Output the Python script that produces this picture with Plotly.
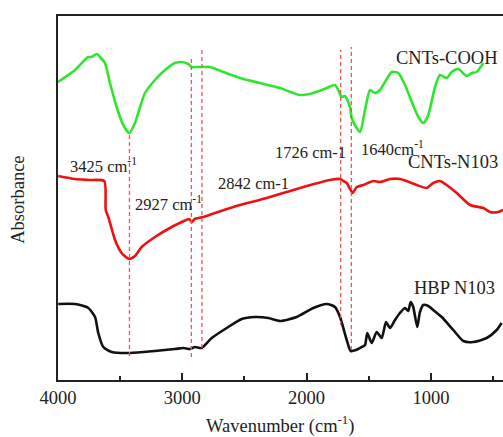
import plotly.graph_objects as go

# Wavenumber (cm-1) and relative absorbance (offset traces)
cooh_wn = [4000, 3863, 3769, 3759, 3729, 3689, 3662, 3622, 3582, 3528, 3475, 3426, 3381, 3340, 3300,
           3220, 3139, 3059, 3005, 2952, 2924, 2884, 2831, 2777, 2670, 2509, 2375, 2214, 2053, 1946,
           1838, 1772, 1745, 1718, 1691, 1651, 1637, 1602, 1570, 1530, 1490, 1450, 1410, 1369, 1315,
           1262, 1208, 1154, 1101, 1061, 1021, 967, 927, 873, 833, 780, 712, 672, 632, 578]
cooh_ab = [298, 310, 322, 323, 323, 326, 323, 317, 297, 273, 255, 247, 257, 273, 287,
           300, 310, 317, 318, 316, 313, 313, 313, 313, 308, 301, 297, 292, 285, 287,
           292, 295, 290, 283, 284, 273, 262, 253, 248, 270, 290, 287, 290, 298, 308,
           307, 295, 278, 263, 257, 265, 293, 305, 302, 308, 311, 304, 307, 308, 317]

n103_wn = [3998, 3863, 3756, 3628, 3616, 3595, 3541, 3488, 3429, 3381, 3327, 3220, 3085, 2978, 2945,
           2924, 2900, 2831, 2590, 2321, 2053, 1812, 1731, 1691, 1677, 1629, 1597, 1544, 1463, 1410,
           1329, 1249, 1195, 1114, 1034, 981, 927, 873, 792, 685, 578, 525, 458, 418]
n103_ab = [204, 201, 200, 199, 170, 163, 140, 127, 121, 124, 133, 143, 153, 159.5, 161,
           158, 161, 163, 173, 182, 192, 200, 201, 198, 197, 187, 193, 195, 199, 198,
           201, 201, 199, 195, 192, 197, 199, 195, 187, 175, 172, 168, 168, 170]

hbp_wn = [3998, 3863, 3756, 3702, 3676, 3636, 3568, 3421, 3220, 3059, 2992, 2938, 2898, 2844, 2763,
          2630, 2522, 2415, 2308, 2214, 2080, 1946, 1838, 1772, 1731, 1677, 1645, 1603, 1557, 1530,
          1512, 1476, 1436, 1396, 1361, 1329, 1289, 1249, 1208, 1182, 1163, 1142, 1110, 1088, 1061,
          1021, 981, 913, 820, 739, 659, 551, 471, 431]
hbp_ab = [76, 76, 72, 63, 47, 33, 28, 27, 29, 31, 32, 31, 33, 32, 42,
          53, 61, 63, 62, 59, 63, 72, 76, 73, 63, 40, 29, 30, 33, 35,
          47, 37, 48, 42, 58, 52, 60, 67, 72, 69, 78, 73, 53, 68, 75,
          74, 70, 63, 50, 39, 38, 42, 50, 57]

peak_wn = [3425, 2927, 2842, 1726, 1640]
peak_top = [246, 323, 332, 330, 333]
peak_bottom = [24, 23, 32, 55, 30]

series_names = ["CNTs-COOH", "CNTs-N103", "HBP N103"]
series_colors = ["#2ee62e", "#ee1111", "#111111"]

peak_labels = ["3425 cm<sup>-1</sup>", "2927 cm<sup>-1</sup>", "2842 cm-1", "1726 cm-1", "1640cm<sup>-1</sup>"]
peak_label_x = [3920, 3397, 2729, 2270, 1578]
peak_label_y = [215, 177, 197, 228, 232]
name_label_x = [1297, 1200, 1152]
name_label_y = [322, 218, 92]

FONT = "Liberation Serif, Times New Roman, serif"

fig = go.Figure()

for i, (wn, ab) in enumerate([(cooh_wn, cooh_ab), (n103_wn, n103_ab), (hbp_wn, hbp_ab)]):
    fig.add_trace(go.Scatter(x=wn, y=ab, mode="lines", name=series_names[i],
                             line=dict(color=series_colors[i], width=2.6, shape="spline", smoothing=0.6),
                             showlegend=False))

for w, t, b in zip(peak_wn, peak_top, peak_bottom):
    fig.add_shape(type="line", x0=w, x1=w, y0=b, y1=t, xref="x", yref="y",
                  line=dict(color="#f05555", width=1.3, dash="4px,3px"))

for txt, x, y in zip(peak_labels, peak_label_x, peak_label_y):
    fig.add_annotation(x=x, y=y, text=txt, showarrow=False, xanchor="left", yanchor="middle",
                       font=dict(family=FONT, size=16.5, color="#222"))

for txt, x, y in zip(series_names, name_label_x, name_label_y):
    fig.add_annotation(x=x, y=y, text=txt, showarrow=False, xanchor="left", yanchor="middle",
                       font=dict(family=FONT, size=18.5, color="#222"))

fig.add_annotation(x=-0.09, y=0.495, xref="paper", yref="paper", text="Absorbance", textangle=-90,
                   showarrow=False, xanchor="center", yanchor="middle",
                   font=dict(family=FONT, size=18.5, color="#222"))
fig.add_annotation(x=0.5, y=-0.122, xref="paper", yref="paper", text="Wavenumber (cm<sup>-1</sup>)",
                   showarrow=False, xanchor="center", yanchor="middle",
                   font=dict(family=FONT, size=18.5, color="#222"))

fig.update_layout(
    width=503, height=437,
    margin=dict(l=58, r=0, t=16, b=57),
    paper_bgcolor="white", plot_bgcolor="white",
    xaxis=dict(range=[4000, 420], tickvals=[4000, 3000, 2000, 1000], ticktext=["4000", "3000", "2000", "1000"],
               ticks="inside", ticklen=7, tickwidth=1.5, tickcolor="#222",
               minor=dict(tickvals=[3500, 2500, 1500, 500], ticks="inside", ticklen=4, tickwidth=1.5, tickcolor="#222"),
               showline=True, linecolor="#222", linewidth=2, mirror=True, showgrid=False, zeroline=False,
               tickfont=dict(family=FONT, size=18.5, color="#222")),
    yaxis=dict(range=[0, 364], showticklabels=False, ticks="", showline=True, linecolor="#222", linewidth=2,
               showgrid=False, zeroline=False),
)

fig.write_html("out.html")
